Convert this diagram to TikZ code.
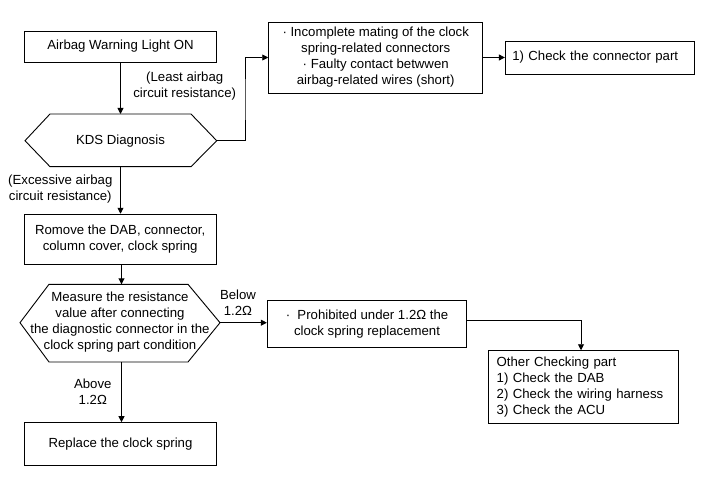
\documentclass[tikz,border=0pt]{standalone}
\usepackage{fontspec}
\setmainfont{Liberation Sans}
\usetikzlibrary{arrows.meta,calc}
\begin{document}
\begin{tikzpicture}[x=1pt,y=-1pt,
  every node/.style={font=\fontsize{13.2}{16}\selectfont},
  box/.style={draw, line width=0.9pt, inner sep=0pt, align=center},
  conn/.style={line width=0.9pt, -{Triangle[length=6pt,width=6pt]}},
  plain/.style={line width=0.9pt},
  lbl/.style={align=center, inner sep=0pt}]
\useasboundingbox (0,0) rectangle (703,489);
% boxes
\node[box, minimum width=192.4pt, minimum height=31pt] (warn) at (120.5,46.5) {Airbag Warning Light ON};
\node[box, minimum width=214pt, minimum height=71pt] (inc) at (375.7,57.5)
  {\textperiodcentered\ Incomplete mating of the clock\\spring-related connectors\\\textperiodcentered\ Faulty contact betwwen\\airbag-related wires (short)};
\node[box, minimum width=189.4pt, minimum height=33pt, text width=175.4pt, inner xsep=7pt, align=left] (chk) at (600,57.5) {1) Check the connector part};
\node[box, minimum width=191.7pt, minimum height=50pt] (rem) at (120.2,239.2) {Romove the DAB, connector,\\column cover, clock spring};
\node[box, minimum width=199.4pt, minimum height=46.7pt] (pro) at (367,323.7) {\textperiodcentered\ \ Prohibited under 1.2Ω the\\clock spring replacement};
\node[box, minimum width=189.6pt, minimum height=72.6pt, text width=173.6pt, inner xsep=8pt, align=left] (oth) at (583.5,387)
  {Other Checking part\\1) Check the DAB\\2) Check the wiring harness\\3) Check the ACU};
\node[box, minimum width=192.4pt, minimum height=42.3pt] (rep) at (120.5,443.8) {Replace the clock spring};
% hexagon 1
\coordinate (kdsL) at (25,140.7);
\coordinate (kdsT) at (120.5,114);
\coordinate (kdsB) at (120.5,166.7);
\coordinate (kdsR) at (216.7,140.7);
\draw[plain] (kdsL) -- (50,114) -- (191,114) -- (kdsR) -- (191,166.7) -- (50,166.7) -- cycle;
\node[lbl] (kds) at (120.5,140.7) {KDS Diagnosis};
% hexagon 2
\coordinate (mL) at (20,322.7);
\coordinate (mT) at (121.5,284.3);
\coordinate (mB) at (121.5,362);
\coordinate (mR) at (220,322.7);
\draw[plain] (mL) -- (49,284.3) -- (188,284.3) -- (mR) -- (188,362) -- (49,362) -- cycle;
\node[lbl] (meas) at (120,322.3) {Measure the resistance\\value after connecting\\the diagnostic connector in the\\clock spring part condition};
% labels
\node[lbl] (l1) at (184.7,86) {(Least airbag\\circuit resistance)};
\node[lbl] (l2) at (60.3,189) {(Excessive airbag\\circuit resistance)};
\node[lbl] (l3) at (238,302.7) {Below\\1.2Ω};
\node[lbl] (l4) at (92.8,391.3) {Above\\1.2Ω};
% connectors
\coordinate (jog1) at (245,100);
\draw[conn] (warn.south) -- (kdsT);
\draw[conn] (kdsR) -| (jog1) |- (inc.west);
\draw[conn] (inc.east) -- (inc.east -| chk.west);
\draw[conn] (kdsB) -- (kdsB |- rem.north);
\draw[conn] (rem.south -| mT) -- (mT);
\draw[conn] (mR) -- (mR -| pro.west);
\draw[conn] ([yshift=3.4pt]pro.east) -| ([xshift=-2.5pt]oth.north);
\draw[conn] (mB) -- (mB |- rep.north);
\end{tikzpicture}
\end{document}
